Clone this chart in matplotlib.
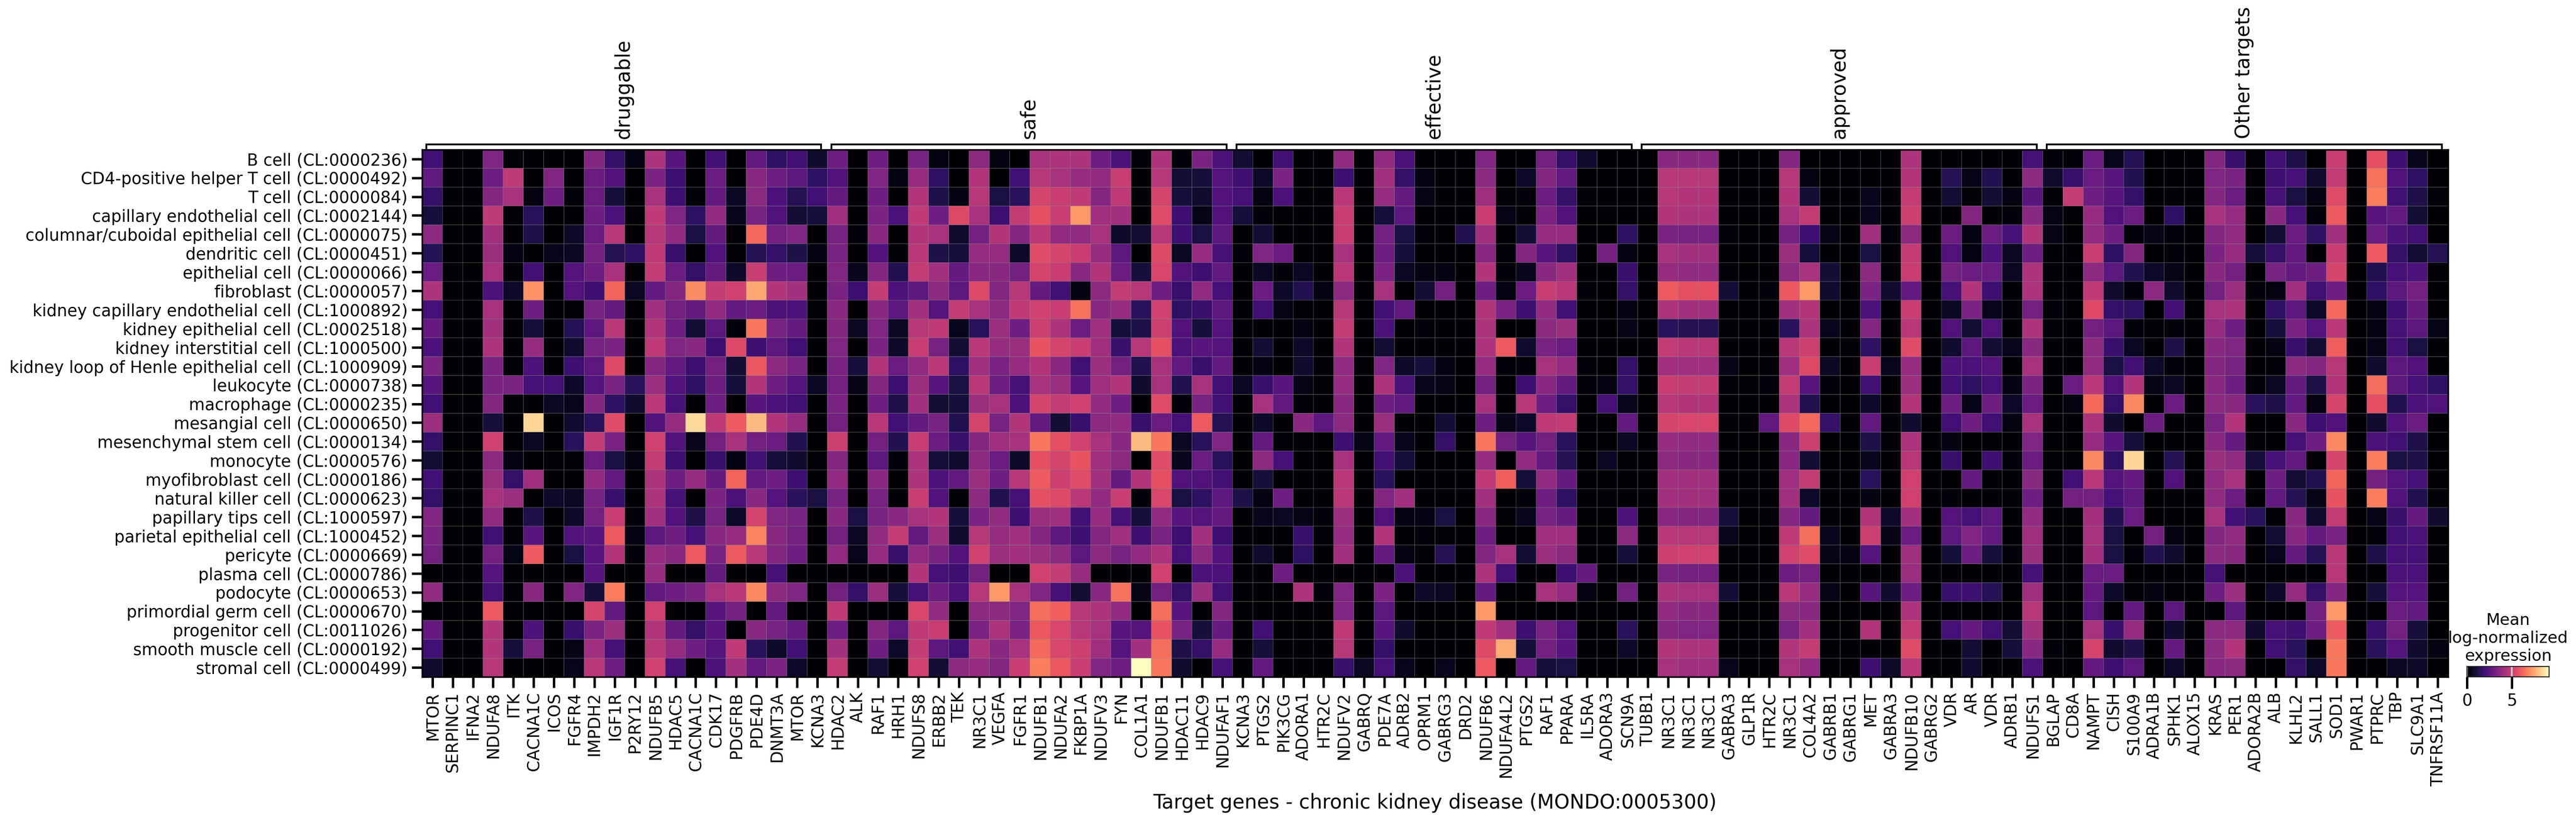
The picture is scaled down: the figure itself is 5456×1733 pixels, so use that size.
"""Mean log-normalized expression of chronic kidney disease target genes per cell type."""

import numpy as np
import matplotlib
matplotlib.use("Agg")
import matplotlib.pyplot as plt

W, H, DPI = 5456, 1733, 300
VMAX = 9.2
SMALL = 8.3

cell_types = [
    "B cell (CL:0000236)", "CD4-positive helper T cell (CL:0000492)", "T cell (CL:0000084)",
    "capillary endothelial cell (CL:0002144)", "columnar/cuboidal epithelial cell (CL:0000075)",
    "dendritic cell (CL:0000451)", "epithelial cell (CL:0000066)", "fibroblast (CL:0000057)",
    "kidney capillary endothelial cell (CL:1000892)", "kidney epithelial cell (CL:0002518)",
    "kidney interstitial cell (CL:1000500)", "kidney loop of Henle epithelial cell (CL:1000909)",
    "leukocyte (CL:0000738)", "macrophage (CL:0000235)", "mesangial cell (CL:0000650)",
    "mesenchymal stem cell (CL:0000134)", "monocyte (CL:0000576)", "myofibroblast cell (CL:0000186)",
    "natural killer cell (CL:0000623)", "papillary tips cell (CL:1000597)",
    "parietal epithelial cell (CL:1000452)", "pericyte (CL:0000669)", "plasma cell (CL:0000786)",
    "podocyte (CL:0000653)", "primordial germ cell (CL:0000670)", "progenitor cell (CL:0011026)",
    "smooth muscle cell (CL:0000192)", "stromal cell (CL:0000499)",
]

group_names = ["druggable", "safe", "effective", "approved", "Other targets"]

druggable_genes = ["MTOR", "SERPINC1", "IFNA2", "NDUFA8", "ITK", "CACNA1C", "ICOS", "FGFR4", "IMPDH2", "IGF1R",
                   "P2RY12", "NDUFB5", "HDAC5", "CACNA1C", "CDK17", "PDGFRB", "PDE4D", "DNMT3A", "MTOR", "KCNA3"]
safe_genes = ["HDAC2", "ALK", "RAF1", "HRH1", "NDUFS8", "ERBB2", "TEK", "NR3C1", "VEGFA", "FGFR1",
              "NDUFB1", "NDUFA2", "FKBP1A", "NDUFV3", "FYN", "COL1A1", "NDUFB1", "HDAC11", "HDAC9", "NDUFAF1"]
effective_genes = ["KCNA3", "PTGS2", "PIK3CG", "ADORA1", "HTR2C", "NDUFV2", "GABRQ", "PDE7A", "ADRB2", "OPRM1",
                   "GABRG3", "DRD2", "NDUFB6", "NDUFA4L2", "PTGS2", "RAF1", "PPARA", "IL5RA", "ADORA3", "SCN9A"]
approved_genes = ["TUBB1", "NR3C1", "NR3C1", "NR3C1", "GABRA3", "GLP1R", "HTR2C", "NR3C1", "COL4A2", "GABRB1",
                  "GABRG1", "MET", "GABRA3", "NDUFB10", "GABRG2", "VDR", "AR", "VDR", "ADRB1", "NDUFS1"]
other_genes = ["BGLAP", "CD8A", "NAMPT", "CISH", "S100A9", "ADRA1B", "SPHK1", "ALOX15", "KRAS", "PER1",
               "ADORA2B", "ALB", "KLHL2", "SALL1", "SOD1", "PWAR1", "PTPRC", "TBP", "SLC9A1", "TNFRSF11A"]

# one row per cell type, one value per gene
druggable = [
    [2.0,0,0,3.4,.2,0,0,0,3.5,1.7,.3,4.4,2.5,0,2.0,.05,2.7,1.6,2.0,.8],
    [2.7,0,0,3.0,4.8,0,3.4,0,2.9,2.3,0,3.3,1.9,0,2.9,0,3.6,3.0,2.6,1.6],
    [1.7,0,0,3.5,4.3,.3,3.0,.2,2.9,1.0,0,4.3,1.9,.2,2.8,.6,3.7,2.2,1.4,2.0],
    [1.0,0,0,4.8,.1,1.5,.05,.05,3.0,2.2,.1,4.8,3.4,1.6,3.8,.5,3.2,2.3,.9,1.0],
    [3.7,0,0,4.2,.05,1.2,0,.7,2.9,4.6,0,4.6,3.8,1.1,2.8,.1,6.3,3.1,3.4,0],
    [1.4,0,0,4.0,.3,0,.5,.6,3.1,1.4,1.6,4.8,1.8,0,2.3,.1,1.4,1.7,1.2,.3],
    [2.9,.1,0,4.3,.2,2.0,0,2.4,3.0,4.3,.1,4.9,2.9,1.7,2.8,.7,5.0,3.0,2.9,.05],
    [4.4,0,0,2.2,.7,7.1,0,2.4,1.9,6.2,.6,2.7,3.5,7.0,4.9,5.2,7.5,4.5,4.2,0],
    [2.1,.05,0,4.3,0,3.0,0,.1,3.2,2.8,0,4.2,3.1,2.8,3.8,2.7,2.9,2.2,2.2,.1],
    [2.8,0,0,4.2,.05,1.0,0,1.4,2.6,4.7,0,4.5,3.0,.9,2.6,.2,6.6,3.2,2.8,0],
    [2.2,0,0,4.4,.05,3.9,0,.8,3.2,3.3,0,4.8,3.4,3.6,1.9,5.5,1.9,2.6,2.0,0],
    [3.3,.05,0,3.3,.1,2.2,.05,1.9,2.6,5.5,0,3.5,2.7,1.9,3.1,.9,5.9,3.7,3.2,0],
    [2.5,0,0,3.3,3.3,2.1,2.1,.7,2.4,3.2,1.5,4.0,2.3,1.6,3.0,1.0,4.5,3.0,2.4,.6],
    [2.0,.05,0,3.5,.1,.05,.6,.5,3.5,1.6,.8,4.7,2.1,.05,3.0,.05,2.5,2.2,2.0,0],
    [4.0,.05,0,1.0,0,8.4,0,.8,1.5,5.6,0,2.3,3.9,8.5,4.8,6.0,7.9,4.5,3.9,0],
    [1.7,0,0,5.2,0,.6,0,1.5,4.9,3.3,0,5.2,2.3,.5,3.1,4.3,3.1,2.9,1.3,0],
    [.9,0,0,3.7,.3,0,.1,.1,2.9,1.1,.3,4.9,1.9,0,1.8,.3,2.0,1.0,.8,.1],
    [2.0,0,0,4.0,1.7,4.1,0,0,3.8,2.7,0,4.4,3.0,3.9,2.8,6.2,2.7,3.0,1.9,0],
    [1.7,0,0,4.3,4.0,0,.7,.6,3.2,1.8,0,4.4,2.1,0,3.3,2.2,3.6,2.4,1.5,1.1],
    [3.4,0,0,3.8,.05,1.2,0,.7,3.1,5.0,.2,4.2,2.3,1.2,3.2,.7,5.3,3.4,3.2,0],
    [3.3,0,0,2.0,.2,2.5,0,2.3,2.5,6.0,.3,2.6,3.0,2.1,3.6,3.9,6.8,3.6,3.1,0],
    [3.1,0,0,3.1,.4,6.0,0,1.1,2.5,4.5,.2,3.9,3.6,6.0,3.2,6.0,4.6,3.5,3.0,0],
    [0,0,0,2.4,0,0,0,0,2.5,0,0,3.9,0,0,2.8,0,0,2.1,0,0],
    [3.8,0,0,2.1,.2,3.6,.05,3.4,1.0,6.7,0,2.7,3.0,3.3,4.3,4.7,6.9,3.7,3.4,0],
    [0,0,0,6.0,0,0,0,0,5.3,2.7,0,5.2,0,0,2.5,3.1,0,2.7,0,0],
    [2.8,0,0,4.5,0,2.2,0,1.8,3.3,4.0,0,4.5,2.8,1.7,2.5,0,3.6,3.2,2.7,0],
    [2.0,0,0,4.5,1.0,3.2,0,.4,4.1,2.1,0,4.7,3.9,3.0,2.4,4.8,1.5,.7,2.0,0],
    [.8,0,0,4.6,0,0,0,.5,4.7,3.0,0,5.2,2.1,0,2.2,4.2,2.7,3.3,.7,0],
]
safe = [
    [3.0,0,3.0,.05,3.2,.3,.05,3.7,.3,.05,4.3,4.4,4.4,3.0,2.2,.1,4.4,.2,3.3,2.2],
    [2.3,0,3.4,.3,3.9,1.6,0,4.5,0,2.0,4.6,4.3,3.9,3.8,5.0,0,4.6,.9,1.0,2.4],
    [2.8,0,3.0,0,4.5,1.2,.3,4.6,1.1,1.5,5.3,5.0,4.8,3.5,4.8,.1,5.3,1.0,.8,2.3],
    [4.1,0,3.3,2.2,4.8,3.0,5.5,4.3,1.9,4.9,5.7,5.0,7.2,4.1,4.2,0,5.6,1.9,.4,2.3],
    [3.2,.2,3.6,0,4.5,4.3,.8,3.1,4.5,3.5,4.7,3.8,3.8,4.3,.7,.9,4.6,1.9,1.1,2.6],
    [3.2,0,2.3,.1,4.7,1.2,1.0,3.9,3.9,.7,5.6,5.3,5.0,3.9,2.6,0,5.5,.6,3.9,2.1],
    [3.4,.5,3.5,1.3,4.9,4.2,2.8,3.6,3.6,3.1,5.3,5.0,3.6,4.5,2.9,1.0,5.4,2.3,1.9,2.7],
    [3.3,1.9,4.9,2.2,2.6,3.7,2.6,5.5,3.5,4.6,2.8,2.0,.3,3.7,4.9,4.6,3.0,1.8,3.8,2.1],
    [3.6,0,3.6,2.6,4.2,2.4,4.9,4.3,3.7,4.8,5.2,5.0,6.5,3.6,3.9,1.5,5.2,1.6,1.8,2.6],
    [3.5,.6,3.4,.6,4.6,4.8,.5,1.5,4.0,3.0,5.1,4.4,2.9,4.1,1.0,1.2,5.1,2.3,1.0,2.4],
    [3.4,0,3.3,.7,5.0,3.2,.9,4.7,3.9,4.0,5.8,5.3,5.0,4.1,1.8,4.6,5.7,2.2,2.5,2.4],
    [3.3,1.0,4.5,2.9,3.8,4.7,1.6,4.1,3.3,3.9,4.5,3.6,2.0,4.0,3.1,1.3,4.3,2.7,1.8,2.7],
    [3.1,.4,3.5,1.9,4.0,2.5,1.1,4.7,3.0,2.1,4.3,4.0,2.5,4.1,4.5,.8,4.3,1.3,4.3,2.0],
    [3.3,0,3.0,1.2,4.2,.9,1.0,4.0,4.3,2.2,5.3,4.9,5.2,3.8,3.0,.05,5.6,.2,3.2,2.0],
    [3.1,0,4.7,2.0,2.7,3.2,1.3,5.3,3.2,4.5,2.8,.9,1.8,3.7,3.8,1.8,2.9,2.1,6.0,1.4],
    [5.1,0,3.1,1.3,5.0,2.9,1.8,3.5,4.1,4.3,6.6,5.7,5.2,4.3,3.6,7.9,6.6,.6,1.5,3.4],
    [3.5,0,2.6,.2,4.4,1.0,.8,3.7,2.9,.7,5.7,5.3,5.8,4.1,3.7,0,5.6,.5,2.9,1.5],
    [3.8,0,3.6,0,4.4,2.2,2.7,4.0,3.0,4.6,6.0,5.1,5.6,4.2,2.8,4.5,5.7,2.3,2.3,2.0],
    [3.2,0,3.2,0,5.0,2.3,.1,3.7,1.3,2.1,5.7,5.5,4.7,3.8,5.0,.2,5.4,1.1,1.6,2.6],
    [3.6,1.1,3.2,3.6,4.3,4.5,1.0,3.3,3.8,1.9,4.0,4.1,2.0,3.9,2.1,1.0,3.8,2.5,2.4,2.8],
    [3.1,.6,3.8,4.9,2.8,4.0,.8,4.6,3.9,4.2,3.5,2.6,1.9,3.5,4.1,1.9,3.2,1.9,4.2,1.9],
    [3.8,.5,3.9,1.8,3.8,3.3,2.3,5.2,4.0,4.2,4.0,3.7,2.6,3.7,3.2,3.8,4.4,2.1,3.7,2.3],
    [0,0,0,0,4.5,2.1,1.9,3.1,0,0,5.2,4.9,3.9,0,0,0,5.2,0,2.2,2.2],
    [3.1,1.7,4.0,1.0,2.1,3.0,2.2,4.6,7.2,4.3,3.4,2.1,.9,3.6,6.5,.4,3.1,1.7,4.0,2.0],
    [4.8,0,0,0,5.4,3.8,0,3.7,3.7,3.4,6.4,6.1,4.6,4.4,3.8,0,6.4,2.5,0,3.5],
    [3.0,0,3.5,2.6,4.8,5.0,0,3.3,4.4,3.3,5.9,5.4,4.6,4.3,2.5,2.4,5.8,3.2,1.0,2.8],
    [4.2,0,3.0,.7,4.9,2.6,2.0,4.4,3.6,4.3,6.3,5.4,5.1,4.1,2.4,4.2,6.4,1.2,1.7,3.9],
    [4.9,0,.9,0,5.2,.9,3.7,3.9,3.5,5.0,6.7,5.9,5.0,3.4,3.0,9.2,6.6,.8,0,2.1],
]
effective = [
    [.9,0,2.0,0,0,3.8,0,3.8,2.2,0,0,0,3.4,.05,0,3.1,1.7,.8,0,0],
    [1.9,.7,3.3,0,0,1.9,0,4.2,1.7,.3,0,0,3.7,0,.7,3.5,2.7,0,0,0],
    [2.1,.3,2.2,0,0,4.7,0,3.9,2.8,.4,0,0,4.1,.1,.2,2.9,1.7,.2,0,0],
    [1.0,.2,.1,0,0,5.0,0,1.0,2.6,0,0,0,5.0,.4,.1,3.3,2.3,0,.1,.05],
    [0,.9,0,.05,.05,5.0,0,3.1,1.1,.2,.05,1.3,4.2,0,.9,3.9,3.9,0,0,1.6],
    [.2,3.4,2.9,0,0,4.3,0,3.0,1.0,0,0,0,3.6,.2,3.5,2.5,1.6,0,3.1,.3],
    [0,.6,.2,.6,.05,4.7,0,3.3,.6,.3,.3,.05,4.5,.2,.5,3.6,4.2,.05,0,1.8],
    [0,2.9,.7,1.3,.3,3.7,.05,4.3,.05,.9,3.1,.05,3.0,.3,2.9,5.0,4.7,.2,0,1.7],
    [.05,2.0,.4,.1,0,4.6,.03,2.0,2.7,0,0,0,4.5,3.3,1.9,3.8,2.0,0,0,.3],
    [0,.05,0,.3,.03,4.9,0,2.2,0,.2,.05,0,4.4,0,.02,3.7,4.0,0,0,.4],
    [0,.9,.05,.7,0,4.5,0,.9,.05,.02,.05,0,4.4,6.0,.8,3.2,2.9,0,0,0],
    [0,.3,0,.8,.1,3.8,.1,3.4,.7,1.0,.3,0,3.9,.2,.2,4.3,3.9,.2,0,1.7],
    [.6,1.8,2.5,.4,.1,3.9,0,4.4,2.2,.5,.4,0,3.1,.05,1.9,3.6,2.8,.2,.3,1.7],
    [0,4.3,2.7,.1,0,3.6,0,3.0,2.7,0,0,0,4.3,.03,4.6,3.0,1.7,.05,2.1,.5],
    [0,.7,0,3.6,2.6,3.7,0,4.0,0,.05,.9,0,3.0,.4,.7,4.8,4.9,0,0,2.7],
    [0,2.8,.1,.1,0,1.9,.4,2.7,.5,0,1.7,0,6.6,3.1,2.5,3.1,1.5,0,0,.6],
    [.05,3.7,2.1,0,0,4.3,0,2.0,1.0,0,0,0,3.9,.05,3.8,2.8,1.4,0,.6,.1],
    [0,1.0,0,0,0,4.7,0,1.5,0,0,0,0,4.8,6.1,1.0,3.8,2.8,0,0,0],
    [1.2,.3,3.0,0,0,4.7,0,3.5,4.2,.03,0,0,4.2,0,.2,3.0,1.6,0,.1,0],
    [0,.5,.6,.4,.2,4.0,0,2.3,.3,.3,1.1,0,3.6,.1,.5,3.2,2.8,0,0,2.2],
    [0,.05,.05,1.8,.1,3.9,0,4.5,0,.2,.1,0,3.0,0,0,4.1,4.1,.02,0,3.7],
    [0,.8,.1,1.6,.05,4.2,0,2.8,.3,.1,1.4,.02,3.5,4.3,.9,4.0,3.7,.02,0,1.0],
    [0,0,3.0,0,0,0,0,0,2.2,0,0,0,4.4,2.0,0,0,1.9,2.8,0,0],
    [0,0,.05,4.4,.2,3.4,0,3.3,0,.7,.6,0,2.8,.1,0,4.3,3.9,.3,0,3.1],
    [0,0,0,0,0,3.4,0,2.6,0,0,0,0,7.2,0,0,0,0,0,0,0],
    [0,2.0,0,0,0,4.8,0,2.5,.8,0,0,0,4.8,4.2,1.9,3.2,2.4,0,0,1.5],
    [0,1.0,0,0,0,4.6,0,1.7,0,0,0,0,5.5,7.6,1.0,3.1,2.5,0,0,.7],
    [0,2.7,0,0,0,1.8,.6,2.1,.5,0,.5,0,6.0,0,2.7,1.0,1.1,0,0,0],
]
approved = [
    [.05,3.6,3.6,3.6,0,0,0,3.5,.05,0,0,.02,0,4.4,0,.05,.05,.05,.05,2.1],
    [0,4.6,4.6,4.6,0,0,0,4.6,.3,0,0,0,0,4.5,0,1.4,.4,1.3,0,3.7],
    [0,4.6,4.5,4.5,0,0,0,4.5,.9,0,0,.5,0,4.9,0,.9,.1,.9,.3,2.5],
    [0,4.5,4.4,4.4,0,0,0,4.3,4.9,.05,0,.5,0,5.1,0,.05,3.5,.05,.2,3.6],
    [0,3.3,3.2,3.2,.2,0,.05,3.1,1.9,.4,0,4.1,.2,3.7,0,2.9,.3,2.9,2.1,4.5],
    [0,4.3,4.2,4.2,0,0,0,4.0,1.0,.05,0,1.1,0,4.9,0,2.3,.3,2.2,.6,3.0],
    [0,3.9,3.8,3.8,.1,0,.05,3.7,4.3,.9,0,3.7,.1,5.0,.02,3.1,2.9,2.9,.6,4.4],
    [.05,6.0,5.7,5.7,.9,.05,.2,5.9,7.2,.8,0,3.3,.8,2.7,.05,2.1,4.5,1.9,0,4.4],
    [.03,4.4,4.2,4.2,0,0,0,4.2,4.5,.05,.02,2.2,0,5.0,0,.6,3.3,.5,.1,3.1],
    [0,1.5,1.4,1.4,.1,0,.02,1.5,4.4,.5,.05,3.5,.05,4.6,0,2.3,.9,2.3,.05,4.4],
    [.02,4.9,4.7,4.7,0,0,0,4.7,5.1,0,.1,1.6,0,5.6,0,.8,2.6,.9,.5,3.6],
    [0,4.2,4.1,4.1,.4,0,.1,4.1,5.5,.6,0,5.0,.5,3.9,0,2.2,2.2,2.4,.02,4.3],
    [0,5.0,4.9,4.9,.1,.1,.2,4.9,2.5,.2,0,2.0,0,4.0,0,2.0,1.6,2.1,.3,3.3],
    [.03,4.6,4.5,4.5,0,0,0,4.4,1.3,0,.02,.7,0,4.5,0,3.0,.4,3.0,.7,2.9],
    [0,5.3,5.4,5.4,.1,.1,2.7,5.5,6.3,1.7,0,2.7,.1,.8,0,2.0,3.0,2.0,.3,4.3],
    [.05,3.9,3.8,3.8,.05,0,0,3.6,5.1,.03,0,1.2,.1,4.4,0,.3,0,.1,.02,3.4],
    [0,3.7,3.6,3.6,0,0,0,3.6,.9,0,0,.5,0,4.6,0,1.8,.03,1.9,.2,2.9],
    [0,4.2,4.2,4.2,0,0,0,4.1,4.9,0,0,1.5,0,5.2,0,0,2.8,0,0,3.6],
    [0,4.2,4.2,4.2,0,0,0,4.1,.7,0,0,.3,0,5.2,0,.2,.05,.05,.1,3.0],
    [0,3.6,3.5,3.5,1.0,.03,.1,3.5,2.8,.1,.02,4.5,.7,4.2,0,2.4,2.1,2.6,0,3.8],
    [0,4.7,4.6,4.6,.5,0,.05,4.8,6.4,.5,0,5.1,.4,2.9,0,2.6,3.4,2.7,0,4.1],
    [0,5.1,5.2,5.2,.1,.05,0,5.2,5.6,.4,.3,2.4,.05,4.1,0,1.0,3.0,1.0,.2,4.0],
    [0,3.2,3.1,3.1,0,0,0,3.0,3.1,0,0,0,0,4.0,0,0,0,0,0,2.1],
    [0,4.4,4.3,4.3,.9,0,.1,4.7,3.9,.4,0,2.5,.8,3.0,0,1.8,1.9,1.4,.02,4.1],
    [0,3.8,3.6,3.6,0,0,0,3.7,3.6,0,0,0,0,4.4,0,0,0,0,0,4.6],
    [0,3.5,3.4,3.4,0,0,0,3.2,4.2,0,0,4.5,0,4.9,0,2.1,2.8,2.0,.9,4.2],
    [0,4.5,4.4,4.4,0,0,0,4.5,4.9,0,0,0,0,5.6,0,0,.9,0,1.0,3.6],
    [0,4.3,4.1,4.1,.5,0,0,4.3,3.8,0,0,1.9,.7,4.7,0,0,.8,0,0,2.2],
]
other_targets = [
    [.2,.2,2.9,.5,1.4,0,0,0,3.5,1.8,.1,2.0,1.2,0,5.0,0,5.7,1.9,.5,0],
    [.8,1.8,2.9,2.5,1.3,0,0,0,3.4,3.3,0,1.9,2.1,.8,4.9,0,6.5,2.3,1.6,0],
    [.1,4.9,3.0,2.5,1.7,0,.1,0,3.5,2.9,0,2.1,1.1,.3,5.6,0,6.7,2.0,1.2,.1],
    [.4,.1,3.9,2.3,2.9,0,1.6,0,4.3,3.9,0,3.6,2.1,.2,6.0,0,2.5,2.7,.9,0],
    [.4,0,3.8,3.0,.2,.4,.2,0,3.5,3.8,0,.9,2.9,1.6,4.2,0,2.9,2.2,2.0,0],
    [.05,.05,5.0,1.6,3.5,0,.2,0,3.3,3.9,1.0,1.7,2.7,.05,5.0,0,6.0,1.7,.9,1.4],
    [.1,.05,3.7,2.6,1.3,.7,.4,0,3.6,3.1,.02,3.2,2.7,3.0,5.3,0,1.3,2.1,2.2,.1],
    [0,.05,4.8,.8,.2,3.7,.8,0,3.1,4.0,.2,.3,4.1,2.0,3.0,0,1.6,2.6,3.1,.05],
    [.2,.02,5.5,1.7,1.6,0,2.0,0,4.3,4.4,.02,1.6,2.6,.7,6.3,0,.3,1.9,2.8,0],
    [.1,.02,3.1,2.6,.2,.1,.2,0,3.9,3.0,0,1.0,3.3,2.4,4.7,0,.3,2.1,2.6,.4],
    [0,0,3.7,1.8,.6,.02,1.2,0,3.6,3.4,0,.3,1.8,.9,6.1,0,.4,2.0,1.1,0],
    [.02,.05,3.8,1.1,2.0,.7,.2,0,3.5,3.2,.03,.2,3.7,3.5,4.6,0,.8,2.6,2.3,.05],
    [0,2.9,4.7,2.3,4.5,.4,.6,0,3.6,3.0,.2,.6,2.8,1.2,4.5,0,6.4,2.6,2.1,1.6],
    [.02,.3,6.3,1.7,6.9,0,2.9,.02,3.7,3.6,1.5,1.2,2.7,.3,5.3,0,5.7,1.3,2.2,2.3],
    [.02,0,4.4,.8,0,2.9,0,0,3.2,4.5,0,.05,3.6,1.9,2.3,0,.8,2.3,2.9,0],
    [0,0,3.9,2.5,1.0,0,.05,0,3.6,2.8,.1,0,2.1,3.0,6.9,0,2.2,2.0,1.2,.05],
    [.1,.1,6.9,1.6,8.4,0,1.4,0,4.0,3.8,1.0,2.1,2.7,.1,5.3,0,6.7,1.1,1.2,.05],
    [0,2.0,4.7,2.4,2.8,0,2.3,0,3.8,4.3,0,3.0,.9,1.3,6.2,0,3.1,2.4,2.1,0],
    [.1,3.1,3.1,2.1,2.6,0,.1,0,3.8,2.9,0,2.7,1.4,.4,5.8,0,6.7,2.3,1.3,.1],
    [0,.1,4.2,1.3,2.9,.05,.05,0,4.3,2.0,1.5,.1,3.6,.8,4.9,0,.4,1.8,2.8,.8],
    [.02,0,4.3,1.1,.05,3.1,.3,0,3.5,3.8,.05,.9,3.6,2.8,3.2,0,.2,2.0,2.2,.02],
    [.05,.02,4.2,1.1,.2,1.3,.8,0,3.7,3.6,.05,.5,2.8,1.4,4.7,0,1.2,2.1,2.1,.1],
    [0,0,2.9,2.9,0,0,0,0,2.1,0,0,0,0,0,4.6,0,0,2.2,2.2,0],
    [.02,.02,2.8,.7,.1,.3,.1,0,3.0,4.0,0,.7,3.9,1.7,3.5,0,1.0,2.4,2.4,.02],
    [0,0,2.6,0,2.7,0,2.6,0,0,2.6,0,0,0,3.1,7.2,0,0,2.9,2.7,0],
    [0,0,4.3,1.8,3.9,0,.8,0,3.7,3.7,.8,2.1,1.9,3.0,6.0,0,1.8,3.1,1.0,0],
    [.2,0,5.3,.8,1.2,0,2.8,0,3.7,4.5,0,2.0,1.5,0,6.6,0,1.5,2.4,.8,.3],
    [0,0,2.8,1.9,2.6,0,.7,0,3.6,3.7,0,0,1.7,.7,6.6,0,0,.6,.7,0],
]

plt.rcParams.update({"font.family": "DejaVu Sans", "font.size": SMALL, "axes.linewidth": 0.8})


def px_box(left, top, right, bottom):
    # axes rectangle from image pixels
    return [left / W, 1 - bottom / H, (right - left) / W, (bottom - top) / H]


matrix = np.hstack([druggable, safe, effective, approved, other_targets])
genes = druggable_genes + safe_genes + effective_genes + approved_genes + other_genes
n_rows, n_cols = matrix.shape

fig = plt.figure(figsize=(W / DPI + 1e-3, H / DPI + 1e-3), dpi=DPI)

ax = fig.add_axes(px_box(894.2, 317, 5184.3, 1434.3))
mesh = ax.pcolor(matrix, cmap="magma", vmin=0, vmax=VMAX, edgecolor="gray", linewidth=0.1)
ax.set_xlim(0, n_cols)
ax.set_ylim(n_rows, 0)
ax.set_xticks(np.arange(n_cols) + 0.5)
ax.set_xticklabels(genes, rotation=90, fontsize=SMALL)
ax.set_yticks(np.arange(n_rows) + 0.5)
ax.set_yticklabels(cell_types, fontsize=SMALL)
ax.tick_params(axis="both", length=5.4, width=1.25, pad=2)
ax.set_xlabel("Target genes - chronic kidney disease (MONDO:0005300)", fontsize=10, labelpad=3.5)

# brackets over each gene group
bracket_ax = fig.add_axes(px_box(894.2, 306, 5184.3, 317))
bracket_ax.set_xlim(0, n_cols)
bracket_ax.set_ylim(0, 1)
bracket_ax.axis("off")
start = 0
for name, group in zip(group_names, [druggable_genes, safe_genes, effective_genes, approved_genes, other_genes]):
    left, right = start + 0.2, start + len(group) - 0.3
    bracket_ax.plot([left, left, right, right], [0, 1, 1, 0], color="black", lw=0.9, clip_on=False,
                    solid_joinstyle="miter")
    bracket_ax.annotate(name, ((left + right) / 2, 1), xytext=(0, 2.8), textcoords="offset points",
                        rotation=90, ha="center", va="bottom", fontsize=10)
    start += len(group)

cax = fig.add_axes(px_box(5225, 1412.5, 5399, 1434))
cbar = fig.colorbar(mesh, cax=cax, orientation="horizontal", ticks=[0, 5])
cbar.outline.set_linewidth(0.5)
cbar.outline.set_edgecolor("#222222")
cbar.ax.tick_params(length=6, width=1.2, pad=2, labelsize=SMALL)
for tick_value in [0, 5]:
    cbar.ax.axvline(tick_value, color="#c8c8c8", lw=0.9)
cbar.ax.set_title("Mean\nlog-normalized\nexpression", fontsize=8.2, pad=3)

fig.savefig("out.png", dpi=DPI, facecolor="white")
